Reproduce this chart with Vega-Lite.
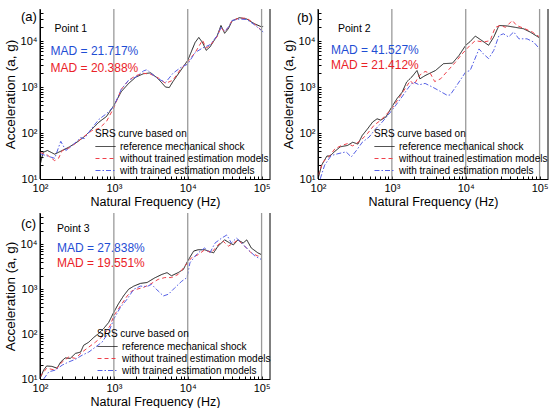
{
"$schema": "https://vega.github.io/schema/vega-lite/v6.json",
"padding": {"left": 3, "top": 7, "right": 0, "bottom": 0},
"background": "white",
"columns": 2,
"spacing": {"row": 3, "column": 10},
"resolve": {"scale": {"color": "independent", "strokeDash": "independent", "fill": "independent"}},
"datasets": {
"grid": [{"f": 1000}, {"f": 10000}, {"f": 100000}],
"edges": [{"f": 100}, {"f": 130000}],
"curves": [
{"p":"a","s":"ref","f":100,"a":19.5},{"p":"a","s":"ref","f":110,"a":38},{"p":"a","s":"ref","f":126,"a":41.7},{"p":"a","s":"ref","f":158,"a":34.7},{"p":"a","s":"ref","f":200,"a":41.7},{"p":"a","s":"ref","f":251,"a":50.1},{"p":"a","s":"ref","f":316,"a":63.1},{"p":"a","s":"ref","f":398,"a":83.2},{"p":"a","s":"ref","f":501,"a":120},{"p":"a","s":"ref","f":631,"a":174},{"p":"a","s":"ref","f":794,"a":229},{"p":"a","s":"ref","f":1000,"a":398},{"p":"a","s":"ref","f":1259,"a":794},{"p":"a","s":"ref","f":1585,"a":1202},{"p":"a","s":"ref","f":1995,"a":1660},{"p":"a","s":"ref","f":2512,"a":1950},{"p":"a","s":"ref","f":3162,"a":2042},{"p":"a","s":"ref","f":3981,"a":1514},{"p":"a","s":"ref","f":5012,"a":1000},{"p":"a","s":"ref","f":5623,"a":977},{"p":"a","s":"ref","f":6310,"a":1318},{"p":"a","s":"ref","f":7943,"a":2239},{"p":"a","s":"ref","f":10000,"a":3802},{"p":"a","s":"ref","f":12589,"a":9333},{"p":"a","s":"ref","f":14125,"a":12023},{"p":"a","s":"ref","f":15849,"a":9333},{"p":"a","s":"ref","f":17783,"a":6310},{"p":"a","s":"ref","f":19953,"a":7413},{"p":"a","s":"ref","f":25119,"a":13183},{"p":"a","s":"ref","f":28184,"a":21878},{"p":"a","s":"ref","f":31623,"a":14791},{"p":"a","s":"ref","f":35481,"a":18621},{"p":"a","s":"ref","f":39811,"a":27542},{"p":"a","s":"ref","f":50119,"a":32359},{"p":"a","s":"ref","f":63096,"a":30200},{"p":"a","s":"ref","f":79433,"a":23988},{"p":"a","s":"ref","f":100000,"a":20417},{"p":"a","s":"ref","f":105000,"a":20893},
{"p":"a","s":"wo","f":100,"a":38},{"p":"a","s":"wo","f":126,"a":33.1},{"p":"a","s":"wo","f":158,"a":25.1},{"p":"a","s":"wo","f":178,"a":28.2},{"p":"a","s":"wo","f":200,"a":41.7},{"p":"a","s":"wo","f":251,"a":47.9},{"p":"a","s":"wo","f":316,"a":63.1},{"p":"a","s":"wo","f":398,"a":85.1},{"p":"a","s":"wo","f":501,"a":112},{"p":"a","s":"wo","f":631,"a":126},{"p":"a","s":"wo","f":794,"a":178},{"p":"a","s":"wo","f":1000,"a":355},{"p":"a","s":"wo","f":1259,"a":891},{"p":"a","s":"wo","f":1585,"a":1413},{"p":"a","s":"wo","f":1995,"a":1778},{"p":"a","s":"wo","f":2512,"a":1995},{"p":"a","s":"wo","f":3162,"a":1905},{"p":"a","s":"wo","f":3981,"a":1585},{"p":"a","s":"wo","f":5012,"a":1202},{"p":"a","s":"wo","f":6310,"a":1413},{"p":"a","s":"wo","f":7943,"a":2399},{"p":"a","s":"wo","f":10000,"a":3548},{"p":"a","s":"wo","f":12589,"a":5623},{"p":"a","s":"wo","f":15849,"a":10471},{"p":"a","s":"wo","f":17783,"a":7079},{"p":"a","s":"wo","f":19953,"a":7943},{"p":"a","s":"wo","f":25119,"a":12589},{"p":"a","s":"wo","f":28184,"a":19953},{"p":"a","s":"wo","f":31623,"a":15849},{"p":"a","s":"wo","f":35481,"a":19953},{"p":"a","s":"wo","f":39811,"a":28184},{"p":"a","s":"wo","f":50119,"a":31623},{"p":"a","s":"wo","f":63096,"a":31623},{"p":"a","s":"wo","f":79433,"a":23988},{"p":"a","s":"wo","f":105000,"a":15849},
{"p":"a","s":"w","f":100,"a":35.5},{"p":"a","s":"w","f":126,"a":31.6},{"p":"a","s":"w","f":158,"a":28.2},{"p":"a","s":"w","f":191,"a":66.1},{"p":"a","s":"w","f":224,"a":41.7},{"p":"a","s":"w","f":282,"a":56.2},{"p":"a","s":"w","f":355,"a":79.4},{"p":"a","s":"w","f":398,"a":75.9},{"p":"a","s":"w","f":501,"a":126},{"p":"a","s":"w","f":631,"a":200},{"p":"a","s":"w","f":794,"a":263},{"p":"a","s":"w","f":1000,"a":380},{"p":"a","s":"w","f":1259,"a":891},{"p":"a","s":"w","f":1585,"a":1413},{"p":"a","s":"w","f":1995,"a":1660},{"p":"a","s":"w","f":2512,"a":2239},{"p":"a","s":"w","f":2818,"a":2399},{"p":"a","s":"w","f":3162,"a":1995},{"p":"a","s":"w","f":3981,"a":1514},{"p":"a","s":"w","f":5012,"a":1259},{"p":"a","s":"w","f":6310,"a":1995},{"p":"a","s":"w","f":7943,"a":2630},{"p":"a","s":"w","f":10000,"a":3162},{"p":"a","s":"w","f":12589,"a":5623},{"p":"a","s":"w","f":15849,"a":7079},{"p":"a","s":"w","f":19953,"a":8318},{"p":"a","s":"w","f":25119,"a":13183},{"p":"a","s":"w","f":28184,"a":19953},{"p":"a","s":"w","f":31623,"a":16596},{"p":"a","s":"w","f":35481,"a":19953},{"p":"a","s":"w","f":39811,"a":28184},{"p":"a","s":"w","f":50119,"a":30200},{"p":"a","s":"w","f":63096,"a":29512},{"p":"a","s":"w","f":79433,"a":22909},{"p":"a","s":"w","f":105000,"a":15849},
{"p":"b","s":"ref","f":100,"a":10},{"p":"b","s":"ref","f":112,"a":20},{"p":"b","s":"ref","f":132,"a":31.6},{"p":"b","s":"ref","f":145,"a":31.6},{"p":"b","s":"ref","f":166,"a":38.9},{"p":"b","s":"ref","f":200,"a":50.1},{"p":"b","s":"ref","f":251,"a":53.7},{"p":"b","s":"ref","f":295,"a":63.1},{"p":"b","s":"ref","f":347,"a":57.5},{"p":"b","s":"ref","f":398,"a":89.1},{"p":"b","s":"ref","f":468,"a":123},{"p":"b","s":"ref","f":550,"a":174},{"p":"b","s":"ref","f":631,"a":204},{"p":"b","s":"ref","f":708,"a":191},{"p":"b","s":"ref","f":832,"a":224},{"p":"b","s":"ref","f":1000,"a":372},{"p":"b","s":"ref","f":1175,"a":562},{"p":"b","s":"ref","f":1380,"a":776},{"p":"b","s":"ref","f":1585,"a":1288},{"p":"b","s":"ref","f":1862,"a":1660},{"p":"b","s":"ref","f":2188,"a":2291},{"p":"b","s":"ref","f":2399,"a":1514},{"p":"b","s":"ref","f":2818,"a":1778},{"p":"b","s":"ref","f":3162,"a":1950},{"p":"b","s":"ref","f":3890,"a":2291},{"p":"b","s":"ref","f":5012,"a":3236},{"p":"b","s":"ref","f":6607,"a":3311},{"p":"b","s":"ref","f":8128,"a":4898},{"p":"b","s":"ref","f":10000,"a":8128},{"p":"b","s":"ref","f":11482,"a":9772},{"p":"b","s":"ref","f":13490,"a":12882},{"p":"b","s":"ref","f":16596,"a":10233},{"p":"b","s":"ref","f":20417,"a":8128},{"p":"b","s":"ref","f":23988,"a":12303},{"p":"b","s":"ref","f":28184,"a":21878},{"p":"b","s":"ref","f":36308,"a":21380},{"p":"b","s":"ref","f":46774,"a":19953},{"p":"b","s":"ref","f":60256,"a":18621},{"p":"b","s":"ref","f":74131,"a":15849},{"p":"b","s":"ref","f":100000,"a":11749},
{"p":"b","s":"wo","f":100,"a":12},{"p":"b","s":"wo","f":117,"a":23.4},{"p":"b","s":"wo","f":145,"a":32.4},{"p":"b","s":"wo","f":170,"a":45.7},{"p":"b","s":"wo","f":209,"a":53.7},{"p":"b","s":"wo","f":251,"a":58.9},{"p":"b","s":"wo","f":295,"a":52.5},{"p":"b","s":"wo","f":380,"a":69.2},{"p":"b","s":"wo","f":468,"a":97.7},{"p":"b","s":"wo","f":575,"a":148},{"p":"b","s":"wo","f":708,"a":191},{"p":"b","s":"wo","f":1000,"a":339},{"p":"b","s":"wo","f":1318,"a":661},{"p":"b","s":"wo","f":1778,"a":1380},{"p":"b","s":"wo","f":1995,"a":1122},{"p":"b","s":"wo","f":2344,"a":1778},{"p":"b","s":"wo","f":2818,"a":2188},{"p":"b","s":"wo","f":3311,"a":1995},{"p":"b","s":"wo","f":3802,"a":1318},{"p":"b","s":"wo","f":4571,"a":1514},{"p":"b","s":"wo","f":5888,"a":2399},{"p":"b","s":"wo","f":7244,"a":3467},{"p":"b","s":"wo","f":8913,"a":5248},{"p":"b","s":"wo","f":11482,"a":8128},{"p":"b","s":"wo","f":13490,"a":10233},{"p":"b","s":"wo","f":17378,"a":9550},{"p":"b","s":"wo","f":21380,"a":10233},{"p":"b","s":"wo","f":25119,"a":19953},{"p":"b","s":"wo","f":29512,"a":21878},{"p":"b","s":"wo","f":34674,"a":19953},{"p":"b","s":"wo","f":42658,"a":28184},{"p":"b","s":"wo","f":48978,"a":21878},{"p":"b","s":"wo","f":63096,"a":18621},{"p":"b","s":"wo","f":79433,"a":15849},{"p":"b","s":"wo","f":100000,"a":12303},
{"p":"b","s":"w","f":107,"a":10},{"p":"b","s":"w","f":123,"a":20},{"p":"b","s":"w","f":151,"a":32.4},{"p":"b","s":"w","f":186,"a":35.5},{"p":"b","s":"w","f":240,"a":38.9},{"p":"b","s":"w","f":282,"a":30.2},{"p":"b","s":"w","f":331,"a":41.7},{"p":"b","s":"w","f":398,"a":63.1},{"p":"b","s":"w","f":490,"a":81.3},{"p":"b","s":"w","f":603,"a":123},{"p":"b","s":"w","f":741,"a":174},{"p":"b","s":"w","f":1000,"a":309},{"p":"b","s":"w","f":1318,"a":562},{"p":"b","s":"w","f":1698,"a":1000},{"p":"b","s":"w","f":1950,"a":1288},{"p":"b","s":"w","f":2344,"a":1122},{"p":"b","s":"w","f":2818,"a":1202},{"p":"b","s":"w","f":3548,"a":1000},{"p":"b","s":"w","f":4266,"a":851},{"p":"b","s":"w","f":5623,"a":661},{"p":"b","s":"w","f":6166,"a":676},{"p":"b","s":"w","f":7586,"a":1096},{"p":"b","s":"w","f":10000,"a":2138},{"p":"b","s":"w","f":11482,"a":2291},{"p":"b","s":"w","f":15136,"a":6761},{"p":"b","s":"w","f":17378,"a":5248},{"p":"b","s":"w","f":20417,"a":4169},{"p":"b","s":"w","f":23988,"a":6310},{"p":"b","s":"w","f":28184,"a":13183},{"p":"b","s":"w","f":32359,"a":14454},{"p":"b","s":"w","f":38019,"a":12303},{"p":"b","s":"w","f":44668,"a":15849},{"p":"b","s":"w","f":52481,"a":11220},{"p":"b","s":"w","f":67608,"a":11220},{"p":"b","s":"w","f":83176,"a":9550},{"p":"b","s":"w","f":100000,"a":6761},
{"p":"c","s":"ref","f":100,"a":10.2},{"p":"c","s":"ref","f":112,"a":15.8},{"p":"c","s":"ref","f":123,"a":19.5},{"p":"c","s":"ref","f":145,"a":19.1},{"p":"c","s":"ref","f":170,"a":17.4},{"p":"c","s":"ref","f":191,"a":24},{"p":"c","s":"ref","f":219,"a":29.5},{"p":"c","s":"ref","f":257,"a":28.8},{"p":"c","s":"ref","f":302,"a":37.2},{"p":"c","s":"ref","f":355,"a":39.8},{"p":"c","s":"ref","f":389,"a":56.2},{"p":"c","s":"ref","f":457,"a":66.1},{"p":"c","s":"ref","f":537,"a":85.1},{"p":"c","s":"ref","f":617,"a":102},{"p":"c","s":"ref","f":724,"a":132},{"p":"c","s":"ref","f":851,"a":182},{"p":"c","s":"ref","f":1000,"a":309},{"p":"c","s":"ref","f":1148,"a":468},{"p":"c","s":"ref","f":1349,"a":708},{"p":"c","s":"ref","f":1585,"a":1000},{"p":"c","s":"ref","f":1862,"a":1175},{"p":"c","s":"ref","f":2291,"a":1349},{"p":"c","s":"ref","f":2818,"a":1413},{"p":"c","s":"ref","f":3548,"a":1778},{"p":"c","s":"ref","f":4467,"a":2138},{"p":"c","s":"ref","f":5248,"a":2344},{"p":"c","s":"ref","f":6026,"a":1995},{"p":"c","s":"ref","f":7413,"a":2344},{"p":"c","s":"ref","f":8710,"a":2754},{"p":"c","s":"ref","f":10000,"a":4266},{"p":"c","s":"ref","f":12023,"a":7079},{"p":"c","s":"ref","f":13804,"a":7586},{"p":"c","s":"ref","f":16982,"a":7586},{"p":"c","s":"ref","f":22387,"a":6457},{"p":"c","s":"ref","f":25704,"a":9120},{"p":"c","s":"ref","f":31623,"a":12589},{"p":"c","s":"ref","f":37154,"a":10715},{"p":"c","s":"ref","f":41687,"a":9772},{"p":"c","s":"ref","f":47863,"a":12589},{"p":"c","s":"ref","f":56234,"a":10715},{"p":"c","s":"ref","f":63096,"a":12589},{"p":"c","s":"ref","f":72444,"a":8318},{"p":"c","s":"ref","f":89125,"a":6457},{"p":"c","s":"ref","f":100000,"a":5888},
{"p":"c","s":"wo","f":100,"a":11.2},{"p":"c","s":"wo","f":123,"a":17.4},{"p":"c","s":"wo","f":162,"a":15.8},{"p":"c","s":"wo","f":200,"a":24},{"p":"c","s":"wo","f":245,"a":30.9},{"p":"c","s":"wo","f":302,"a":28.8},{"p":"c","s":"wo","f":372,"a":39.8},{"p":"c","s":"wo","f":457,"a":51.3},{"p":"c","s":"wo","f":562,"a":66.1},{"p":"c","s":"wo","f":724,"a":93.3},{"p":"c","s":"wo","f":891,"a":155},{"p":"c","s":"wo","f":1000,"a":257},{"p":"c","s":"wo","f":1230,"a":427},{"p":"c","s":"wo","f":1514,"a":708},{"p":"c","s":"wo","f":1738,"a":912},{"p":"c","s":"wo","f":2042,"a":1000},{"p":"c","s":"wo","f":2512,"a":1096},{"p":"c","s":"wo","f":3090,"a":1288},{"p":"c","s":"wo","f":3981,"a":1660},{"p":"c","s":"wo","f":4898,"a":1820},{"p":"c","s":"wo","f":6026,"a":1820},{"p":"c","s":"wo","f":7413,"a":2138},{"p":"c","s":"wo","f":9120,"a":3236},{"p":"c","s":"wo","f":11220,"a":5012},{"p":"c","s":"wo","f":13804,"a":5888},{"p":"c","s":"wo","f":16982,"a":7586},{"p":"c","s":"wo","f":20893,"a":6457},{"p":"c","s":"wo","f":25704,"a":9772},{"p":"c","s":"wo","f":30200,"a":11749},{"p":"c","s":"wo","f":35481,"a":9120},{"p":"c","s":"wo","f":41687,"a":10715},{"p":"c","s":"wo","f":47863,"a":12589},{"p":"c","s":"wo","f":58884,"a":9120},{"p":"c","s":"wo","f":72444,"a":6457},{"p":"c","s":"wo","f":89125,"a":5495},{"p":"c","s":"wo","f":100000,"a":5495},
{"p":"c","s":"w","f":112,"a":10},{"p":"c","s":"w","f":132,"a":14.5},{"p":"c","s":"w","f":162,"a":15.8},{"p":"c","s":"w","f":200,"a":20.4},{"p":"c","s":"w","f":245,"a":24},{"p":"c","s":"w","f":302,"a":27.5},{"p":"c","s":"w","f":372,"a":33.9},{"p":"c","s":"w","f":457,"a":39.8},{"p":"c","s":"w","f":562,"a":51.3},{"p":"c","s":"w","f":692,"a":66.1},{"p":"c","s":"w","f":851,"a":110},{"p":"c","s":"w","f":1000,"a":219},{"p":"c","s":"w","f":1230,"a":398},{"p":"c","s":"w","f":1514,"a":603},{"p":"c","s":"w","f":1862,"a":1000},{"p":"c","s":"w","f":2291,"a":1175},{"p":"c","s":"w","f":2818,"a":1148},{"p":"c","s":"w","f":3236,"a":1288},{"p":"c","s":"w","f":3981,"a":912},{"p":"c","s":"w","f":4677,"a":708},{"p":"c","s":"w","f":5495,"a":776},{"p":"c","s":"w","f":6761,"a":1096},{"p":"c","s":"w","f":8318,"a":1514},{"p":"c","s":"w","f":9772,"a":1820},{"p":"c","s":"w","f":10715,"a":3890},{"p":"c","s":"w","f":12589,"a":5495},{"p":"c","s":"w","f":14791,"a":7079},{"p":"c","s":"w","f":16982,"a":8318},{"p":"c","s":"w","f":19953,"a":6457},{"p":"c","s":"w","f":23442,"a":10715},{"p":"c","s":"w","f":28840,"a":13804},{"p":"c","s":"w","f":33884,"a":16218},{"p":"c","s":"w","f":38905,"a":10715},{"p":"c","s":"w","f":45709,"a":13804},{"p":"c","s":"w","f":53703,"a":10715},{"p":"c","s":"w","f":66069,"a":7586},{"p":"c","s":"w","f":81283,"a":5495},{"p":"c","s":"w","f":100000,"a":4571}
],
"notes": [
{"p":"a","k":"lab","t":"(a)","f":100,"a":50000},
{"p":"a","k":"pt","t":"Point 1","f":157,"a":18200},
{"p":"a","k":"mw","t":"MAD = 21.717%","f":139,"a":6030},
{"p":"a","k":"mwo","t":"MAD = 20.388%","f":139,"a":2570},
{"p":"b","k":"lab","t":"(b)","f":100,"a":50000},
{"p":"b","k":"pt","t":"Point 2","f":186,"a":18200},
{"p":"b","k":"mw","t":"MAD = 41.527%","f":150,"a":6310},
{"p":"b","k":"mwo","t":"MAD = 21.412%","f":150,"a":3000},
{"p":"c","k":"lab","t":"(c)","f":100,"a":50000},
{"p":"c","k":"pt","t":"Point 3","f":170,"a":21900},
{"p":"c","k":"mw","t":"MAD = 27.838%","f":170,"a":8510},
{"p":"c","k":"mwo","t":"MAD = 19.551%","f":170,"a":3800}
]
},
"concat": [
{
"width": 230, "height": 170,
"layer": [
{"data": {"name": "curves"}, "transform": [{"filter": "datum.p=='a'"}],
 "mark": {"type": "line", "strokeWidth": 1, "clip": true},
 "encoding": {
  "x": {"field": "f", "type": "quantitative", "scale": {"type": "log", "domain": [100, 130000], "nice": false},
   "axis": {"orient": "bottom", "title": "Natural Frequency (Hz)", "values": [100,200,300,400,500,600,700,800,900,1000,2000,3000,4000,5000,6000,7000,8000,9000,10000,20000,30000,40000,50000,60000,70000,80000,90000,100000],
    "labelExpr": "datum.value==100?'10²':datum.value==1000?'10³':datum.value==10000?'10⁴':datum.value==100000?'10⁵':''"}},
  "y": {"field": "a", "type": "quantitative", "scale": {"type": "log", "domain": [10, 50000], "nice": false},
   "axis": {"orient": "left", "title": "Acceleration (a, g)", "values": [10,20,30,40,50,60,70,80,90,100,200,300,400,500,600,700,800,900,1000,2000,3000,4000,5000,6000,7000,8000,9000,10000,20000,30000,40000],
    "labelExpr": "datum.value==10?'10¹':datum.value==100?'10²':datum.value==1000?'10³':datum.value==10000?'10⁴':''"}},
  "color": {"field": "s", "type": "nominal", "scale": {"domain": ["ref","wo","w"], "range": ["#1a1a1a","#f0404a","#5560e6"]},
   "legend": {"legendX": 55, "legendY": 120, "title": "SRS curve based on", "labelExpr": "datum.value=='ref'?'reference mechanical shock':datum.value=='wo'?'without trained estimation models':'with trained estimation models'"}},
  "strokeDash": {"field": "s", "type": "nominal", "scale": {"domain": ["ref","wo","w"], "range": [[1,0],[4,3],[5,2,1.5,2]]},
   "legend": {"legendX": 55, "legendY": 120, "title": "SRS curve based on", "labelExpr": "datum.value=='ref'?'reference mechanical shock':datum.value=='wo'?'without trained estimation models':'with trained estimation models'"}}
 }},
{"data": {"name": "grid"}, "mark": {"type": "rule", "color": "#9a9a9a", "strokeWidth": 1.3},
 "encoding": {"x": {"field": "f", "type": "quantitative", "scale": {"type": "log", "domain": [100, 130000], "nice": false}}}},
{"data": {"name": "edges"}, "mark": {"type": "rule", "color": "black", "strokeWidth": 1},
 "encoding": {"x": {"field": "f", "type": "quantitative", "scale": {"type": "log", "domain": [100, 130000], "nice": false}}}},
{"data": {"name": "notes"}, "transform": [{"filter": "datum.p=='a' && datum.k=='lab'"}],
 "mark": {"type": "text", "align": "left", "baseline": "top", "fontSize": 13, "dx": -19, "dy": 2, "color": "black"},
 "encoding": {"x": {"field": "f", "type": "quantitative", "scale": {"type": "log", "domain": [100, 130000], "nice": false}}, "y": {"field": "a", "type": "quantitative", "scale": {"type": "log", "domain": [10, 50000], "nice": false}}, "text": {"field": "t"}}},
{"data": {"name": "notes"}, "transform": [{"filter": "datum.p=='a' && datum.k=='pt'"}],
 "mark": {"type": "text", "align": "left", "baseline": "middle", "fontSize": 10.5, "color": "black"},
 "encoding": {"x": {"field": "f", "type": "quantitative", "scale": {"type": "log", "domain": [100, 130000], "nice": false}}, "y": {"field": "a", "type": "quantitative", "scale": {"type": "log", "domain": [10, 50000], "nice": false}}, "text": {"field": "t"}}},
{"data": {"name": "notes"}, "transform": [{"filter": "datum.p=='a' && (datum.k=='mw' || datum.k=='mwo')"}],
 "mark": {"type": "text", "align": "left", "baseline": "middle", "fontSize": 12},
 "encoding": {"x": {"field": "f", "type": "quantitative", "scale": {"type": "log", "domain": [100, 130000], "nice": false}}, "y": {"field": "a", "type": "quantitative", "scale": {"type": "log", "domain": [10, 50000], "nice": false}}, "text": {"field": "t"},
  "fill": {"field": "k", "type": "nominal", "scale": {"domain": ["mw","mwo"], "range": ["#1f4ed4","#ea2228"]}, "legend": null}}}
]
},
{
"width": 230, "height": 170,
"layer": [
{"data": {"name": "curves"}, "transform": [{"filter": "datum.p=='b'"}],
 "mark": {"type": "line", "strokeWidth": 1, "clip": true},
 "encoding": {
  "x": {"field": "f", "type": "quantitative", "scale": {"type": "log", "domain": [100, 130000], "nice": false},
   "axis": {"orient": "bottom", "title": "Natural Frequency (Hz)", "values": [100,200,300,400,500,600,700,800,900,1000,2000,3000,4000,5000,6000,7000,8000,9000,10000,20000,30000,40000,50000,60000,70000,80000,90000,100000],
    "labelExpr": "datum.value==100?'10²':datum.value==1000?'10³':datum.value==10000?'10⁴':datum.value==100000?'10⁵':''"}},
  "y": {"field": "a", "type": "quantitative", "scale": {"type": "log", "domain": [10, 50000], "nice": false},
   "axis": {"orient": "left", "title": "Acceleration (a, g)", "values": [10,20,30,40,50,60,70,80,90,100,200,300,400,500,600,700,800,900,1000,2000,3000,4000,5000,6000,7000,8000,9000,10000,20000,30000,40000],
    "labelExpr": "datum.value==10?'10¹':datum.value==100?'10²':datum.value==1000?'10³':datum.value==10000?'10⁴':''"}},
  "color": {"field": "s", "type": "nominal", "scale": {"domain": ["ref","wo","w"], "range": ["#1a1a1a","#f0404a","#5560e6"]},
   "legend": {"legendX": 56, "legendY": 120, "title": "SRS curve based on", "labelExpr": "datum.value=='ref'?'reference mechanical shock':datum.value=='wo'?'without trained estimation models':'with trained estimation models'"}},
  "strokeDash": {"field": "s", "type": "nominal", "scale": {"domain": ["ref","wo","w"], "range": [[1,0],[4,3],[5,2,1.5,2]]},
   "legend": {"legendX": 56, "legendY": 120, "title": "SRS curve based on", "labelExpr": "datum.value=='ref'?'reference mechanical shock':datum.value=='wo'?'without trained estimation models':'with trained estimation models'"}}
 }},
{"data": {"name": "grid"}, "mark": {"type": "rule", "color": "#9a9a9a", "strokeWidth": 1.3},
 "encoding": {"x": {"field": "f", "type": "quantitative", "scale": {"type": "log", "domain": [100, 130000], "nice": false}}}},
{"data": {"name": "edges"}, "mark": {"type": "rule", "color": "black", "strokeWidth": 1},
 "encoding": {"x": {"field": "f", "type": "quantitative", "scale": {"type": "log", "domain": [100, 130000], "nice": false}}}},
{"data": {"name": "notes"}, "transform": [{"filter": "datum.p=='b' && datum.k=='lab'"}],
 "mark": {"type": "text", "align": "left", "baseline": "top", "fontSize": 13, "dx": -21, "dy": 3, "color": "black"},
 "encoding": {"x": {"field": "f", "type": "quantitative", "scale": {"type": "log", "domain": [100, 130000], "nice": false}}, "y": {"field": "a", "type": "quantitative", "scale": {"type": "log", "domain": [10, 50000], "nice": false}}, "text": {"field": "t"}}},
{"data": {"name": "notes"}, "transform": [{"filter": "datum.p=='b' && datum.k=='pt'"}],
 "mark": {"type": "text", "align": "left", "baseline": "middle", "fontSize": 10.5, "color": "black"},
 "encoding": {"x": {"field": "f", "type": "quantitative", "scale": {"type": "log", "domain": [100, 130000], "nice": false}}, "y": {"field": "a", "type": "quantitative", "scale": {"type": "log", "domain": [10, 50000], "nice": false}}, "text": {"field": "t"}}},
{"data": {"name": "notes"}, "transform": [{"filter": "datum.p=='b' && (datum.k=='mw' || datum.k=='mwo')"}],
 "mark": {"type": "text", "align": "left", "baseline": "middle", "fontSize": 12},
 "encoding": {"x": {"field": "f", "type": "quantitative", "scale": {"type": "log", "domain": [100, 130000], "nice": false}}, "y": {"field": "a", "type": "quantitative", "scale": {"type": "log", "domain": [10, 50000], "nice": false}}, "text": {"field": "t"},
  "fill": {"field": "k", "type": "nominal", "scale": {"domain": ["mw","mwo"], "range": ["#1f4ed4","#ea2228"]}, "legend": null}}}
]
},
{
"width": 230, "height": 166,
"layer": [
{"data": {"name": "curves"}, "transform": [{"filter": "datum.p=='c'"}],
 "mark": {"type": "line", "strokeWidth": 1, "clip": true},
 "encoding": {
  "x": {"field": "f", "type": "quantitative", "scale": {"type": "log", "domain": [100, 130000], "nice": false},
   "axis": {"orient": "bottom", "title": "Natural Frequency (Hz)", "values": [100,200,300,400,500,600,700,800,900,1000,2000,3000,4000,5000,6000,7000,8000,9000,10000,20000,30000,40000,50000,60000,70000,80000,90000,100000],
    "labelExpr": "datum.value==100?'10²':datum.value==1000?'10³':datum.value==10000?'10⁴':datum.value==100000?'10⁵':''"}},
  "y": {"field": "a", "type": "quantitative", "scale": {"type": "log", "domain": [10, 50000], "nice": false},
   "axis": {"orient": "left", "title": "Acceleration (a, g)", "values": [10,20,30,40,50,60,70,80,90,100,200,300,400,500,600,700,800,900,1000,2000,3000,4000,5000,6000,7000,8000,9000,10000,20000,30000,40000],
    "labelExpr": "datum.value==10?'10¹':datum.value==100?'10²':datum.value==1000?'10³':datum.value==10000?'10⁴':''"}},
  "color": {"field": "s", "type": "nominal", "scale": {"domain": ["ref","wo","w"], "range": ["#1a1a1a","#f0404a","#5560e6"]},
   "legend": {"legendX": 57, "legendY": 116, "title": "SRS curve based on", "labelExpr": "datum.value=='ref'?'reference mechanical shock':datum.value=='wo'?'without trained estimation models':'with trained estimation models'"}},
  "strokeDash": {"field": "s", "type": "nominal", "scale": {"domain": ["ref","wo","w"], "range": [[1,0],[4,3],[5,2,1.5,2]]},
   "legend": {"legendX": 57, "legendY": 116, "title": "SRS curve based on", "labelExpr": "datum.value=='ref'?'reference mechanical shock':datum.value=='wo'?'without trained estimation models':'with trained estimation models'"}}
 }},
{"data": {"name": "grid"}, "mark": {"type": "rule", "color": "#9a9a9a", "strokeWidth": 1.3},
 "encoding": {"x": {"field": "f", "type": "quantitative", "scale": {"type": "log", "domain": [100, 130000], "nice": false}}}},
{"data": {"name": "edges"}, "mark": {"type": "rule", "color": "black", "strokeWidth": 1},
 "encoding": {"x": {"field": "f", "type": "quantitative", "scale": {"type": "log", "domain": [100, 130000], "nice": false}}}},
{"data": {"name": "notes"}, "transform": [{"filter": "datum.p=='c' && datum.k=='lab'"}],
 "mark": {"type": "text", "align": "left", "baseline": "top", "fontSize": 13, "dx": -19, "dy": 5, "color": "black"},
 "encoding": {"x": {"field": "f", "type": "quantitative", "scale": {"type": "log", "domain": [100, 130000], "nice": false}}, "y": {"field": "a", "type": "quantitative", "scale": {"type": "log", "domain": [10, 50000], "nice": false}}, "text": {"field": "t"}}},
{"data": {"name": "notes"}, "transform": [{"filter": "datum.p=='c' && datum.k=='pt'"}],
 "mark": {"type": "text", "align": "left", "baseline": "middle", "fontSize": 10.5, "color": "black"},
 "encoding": {"x": {"field": "f", "type": "quantitative", "scale": {"type": "log", "domain": [100, 130000], "nice": false}}, "y": {"field": "a", "type": "quantitative", "scale": {"type": "log", "domain": [10, 50000], "nice": false}}, "text": {"field": "t"}}},
{"data": {"name": "notes"}, "transform": [{"filter": "datum.p=='c' && (datum.k=='mw' || datum.k=='mwo')"}],
 "mark": {"type": "text", "align": "left", "baseline": "middle", "fontSize": 12},
 "encoding": {"x": {"field": "f", "type": "quantitative", "scale": {"type": "log", "domain": [100, 130000], "nice": false}}, "y": {"field": "a", "type": "quantitative", "scale": {"type": "log", "domain": [10, 50000], "nice": false}}, "text": {"field": "t"},
  "fill": {"field": "k", "type": "nominal", "scale": {"domain": ["mw","mwo"], "range": ["#1f4ed4","#ea2228"]}, "legend": null}}}
]
}
],
"config": {
 "font": "Liberation Sans",
 "view": {"stroke": null},
 "axis": {"labelFont": "Liberation Sans", "labelFontSize": 11, "labelColor": "black", "titleFont": "Liberation Sans", "titleFontWeight": "normal", "titleColor": "black", "domainColor": "black", "domainWidth": 1, "tickColor": "black", "tickWidth": 1, "tickSize": -3, "labelPadding": 6, "grid": false, "labelFlush": false, "labelOverlap": false},
 "axisX": {"titleFontSize": 12.5, "titlePadding": 2},
 "axisY": {"titleFontSize": 13.5, "titlePadding": 3},
 "legend": {"orient": "none", "padding": 0, "titleFontSize": 10, "titleFontWeight": "normal", "titleColor": "black", "titleFont": "Liberation Sans", "titlePadding": 2, "labelFont": "Liberation Sans", "labelFontSize": 10, "labelColor": "black", "labelLimit": 300, "symbolType": "stroke", "symbolSize": 400, "symbolStrokeWidth": 1, "clipHeight": 11, "labelOffset": 4, "rowPadding": 1}
}
}
